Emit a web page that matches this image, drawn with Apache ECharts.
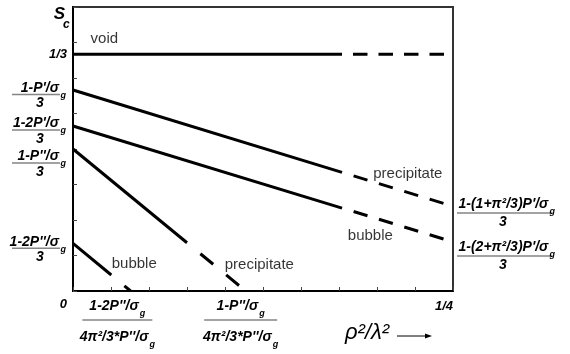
<!DOCTYPE html>
<html>
<head>
<meta charset="utf-8">
<script src="https://cdn.jsdelivr.net/npm/echarts@6/dist/echarts.min.js"></script>
<style>
  html, body { margin: 0; padding: 0; background: #fff; }
  #chart_sc { width: 570px; height: 354px; }
</style>
</head>
<body>
<div id="chart_sc"></div>
<script>
// x = rho^2/lambda^2, y = s_c
const xMax = 0.25
const yMax = 0.4
const xTickStep = 0.025
const yTickStep = 0.05

// every curve: solid part, then the dashed continuation
const voidSolid = [[0, 1 / 3], [0.177, 1 / 3]]
const voidDashed = [[0.1842, 1 / 3], [0.25, 1 / 3]]
const precipPSolid = [[0, 0.2831], [0.177, 0.1671]]
const precipPDashed = [[0.1846, 0.1622], [0.25, 0.1193]]
const bubblePSolid = [[0, 0.2324], [0.177, 0.1168]]
const bubblePDashed = [[0.1846, 0.1119], [0.25, 0.0692]]
const precipPPSolid = [[0, 0.2], [0.075, 0.068]]
const precipPPDashed = [[0.0838, 0.0525], [0.1136, 0]]
const bubblePPSolid = [[0, 0.0672], [0.0252, 0.0225]]
const bubblePPDashed = [[0.0338, 0.0073], [0.0379, 0]]

// names written next to the curves, and where (data units)
const curveNames = ['void', 'precipitate', 'bubble', 'bubble', 'precipitate']
const curveNameAt = [[0.0206, 0.3549], [0.2203, 0.1648], [0.1956, 0.0775], [0.0403, 0.038], [0.1226, 0.0366]]

// tick texts
const yTopLabel = '1/3'
const xStartLabel = '0'
const xEndLabel = '1/4'
const leftFracNums = ["1-P'/σ", "1-2P'/σ", "1-P''/σ", "1-2P''/σ"]
const bottomFracNums = ["1-2P''/σ", "1-P''/σ"]
const bottomFracDen = "4π²/3*P''/σ"
const rightFracNums = ["1-(1+π²/3)P'/σ", "1-(2+π²/3)P'/σ"]

const FAMILY = '"Liberation Sans", Arial, Helvetica, sans-serif'
const fracFont = 'italic bold 14px ' + FAMILY
const subFont = 'italic bold 9px ' + FAMILY
const solid = { color: '#000', width: 3, type: 'solid', cap: 'butt' }
const dashed = dash => ({ color: '#000', width: 3, type: dash, cap: 'butt' })

const curve = (data, lineStyle) => ({
  type: 'line',
  data: data,
  showSymbol: false,
  silent: true,
  lineStyle: lineStyle
})

const chart = echarts.init(document.getElementById('chart_sc'))
chart.setOption({
  animation: false,
  grid: {
    left: 73, right: 117, top: 7, bottom: 63,
    show: true, borderColor: '#333', borderWidth: 2
  },
  xAxis: {
    type: 'value', min: 0, max: xMax, interval: xTickStep,
    axisLabel: { show: false },
    splitLine: { show: false },
    axisLine: { lineStyle: { color: '#000', width: 2 } },
    axisTick: { inside: true, length: 4, lineStyle: { color: '#444', width: 1 } }
  },
  yAxis: {
    type: 'value', min: 0, max: yMax, interval: yTickStep,
    axisLabel: { show: false },
    splitLine: { show: false },
    axisLine: { lineStyle: { color: '#000', width: 2 } },
    axisTick: { inside: true, length: 4, lineStyle: { color: '#444', width: 1 } }
  },
  series: [
    curve(voidSolid, solid),
    curve(voidDashed, dashed([14.5, 11])),
    curve(precipPSolid, solid),
    curve(precipPDashed, dashed([14.5, 12])),
    curve(bubblePSolid, solid),
    curve(bubblePDashed, dashed([14.5, 12])),
    curve(precipPPSolid, solid),
    curve(precipPPDashed, dashed([16.6, 16.8])),
    curve(bubblePPSolid, solid),
    curve(bubblePPDashed, dashed([16.6, 16.8])),
    {
      type: 'scatter',
      silent: true,
      symbolSize: 0,
      data: curveNames.map((n, i) => ({ name: n, value: curveNameAt[i] })),
      label: {
        show: true,
        position: 'inside',
        formatter: p => p.name,
        color: '#000',
        fontSize: 15,
        fontFamily: FAMILY
      }
    }
  ]
})

// ---- fraction labels, anchored to the curve ends through the axes ----
const ctx = document.createElement('canvas').getContext('2d')
const widthOf = (s, f) => { ctx.font = f; return ctx.measureText(s).width }
const px = v => chart.convertToPixel({ gridIndex: 0 }, v)

const text = (x, y, s, font, align) => ({
  type: 'text', x: x, y: y, silent: true,
  style: { text: s, font: font, fill: '#000', align: align || 'left', verticalAlign: 'middle' }
})
const bar = (x1, x2, y) => ({
  type: 'line', silent: true,
  shape: { x1: x1, y1: y, x2: x2, y2: y },
  style: { stroke: '#858585', lineWidth: 1.5 }
})
// text followed by a subscript g
const withSub = (out, x, y, s) => {
  const w = widthOf(s, fracFont)
  out.push(text(x, y, s, fracFont))
  out.push(text(x + w + 1, y + 7.5, 'g', subFont))
}

const g = []

// left side
const leftAnchors = [precipPSolid[0], bubblePSolid[0], precipPPSolid[0], bubblePPSolid[0]]
const leftBarDy = [4.5, 4, 14, 5]
leftFracNums.forEach((num, i) => {
  const [ax, ay] = px(leftAnchors[i])
  const by = ay + leftBarDy[i]
  g.push(bar(ax - 61, ax - 13, by))
  g.push(text(ax - 14, by - 6.5, num, fracFont, 'right'))
  g.push(text(ax - 12.5, by + 1, 'g', subFont))
  g.push(text(ax - 33, by + 9, '3', fracFont, 'center'))
})

// bottom
const bottomAnchors = [bubblePPDashed[1], precipPPDashed[1]]
const bottomDx = [-13.3, -5]
const bottomHalf = [35, 36.5]
bottomFracNums.forEach((num, i) => {
  const [ax, ay] = px(bottomAnchors[i])
  const cx = ax + bottomDx[i]
  const by = ay + 29
  g.push(bar(cx - bottomHalf[i], cx + bottomHalf[i], by))
  const gw = widthOf('g', subFont) + 1
  withSub(g, cx - (widthOf(num, fracFont) + gw) / 2, by - 14, num)
  withSub(g, cx - (widthOf(bottomFracDen, fracFont) + gw) / 2, by + 17.5, bottomFracDen)
})

// right side
const rightAnchors = [precipPDashed[1], bubblePDashed[1]]
const rightBarDy = [6.7, 14.1]
rightFracNums.forEach((num, i) => {
  const [ax, ay] = px(rightAnchors[i])
  const by = ay + rightBarDy[i]
  g.push(bar(ax + 4, ax + 99, by))
  withSub(g, ax + 5.5, by - 8.5, num)
  g.push(text(ax + 50, by + 9.5, '3', fracFont, 'center'))
})

// plain tick texts and axis names
const tickFont = 'italic bold 13px ' + FAMILY
const [y3x, y3y] = px([0, 1 / 3])
g.push(text(y3x - 6, y3y + 0.5, yTopLabel, tickFont, 'right'))
const [ox, oy] = px([0, 0])
g.push(text(ox - 6, oy + 13, xStartLabel, tickFont, 'right'))
const [ex, ey] = px([xMax, 0])
g.push(text(ex, ey + 15, xEndLabel, tickFont, 'right'))

const [tx, ty] = px([0, yMax])
g.push(text(tx - 8, ty + 7, 'S', 'italic bold 17px ' + FAMILY, 'right'))
g.push(text(tx - 10, ty + 17.5, 'c', 'italic bold 12px ' + FAMILY))

g.push(text(ex - 108, ey + 42, 'ρ²/λ²', 'italic 22px ' + FAMILY))
g.push({
  type: 'line', silent: true,
  shape: { x1: ex - 56, y1: ey + 45, x2: ex - 27, y2: ey + 45 },
  style: { stroke: '#000', lineWidth: 1 }
})
g.push({
  type: 'polygon', silent: true,
  shape: { points: [[ex - 21, ey + 45], [ex - 28, ey + 42.5], [ex - 28, ey + 47.5]] },
  style: { fill: '#000' }
})

chart.setOption({ graphic: g })
</script>
</body>
</html>
